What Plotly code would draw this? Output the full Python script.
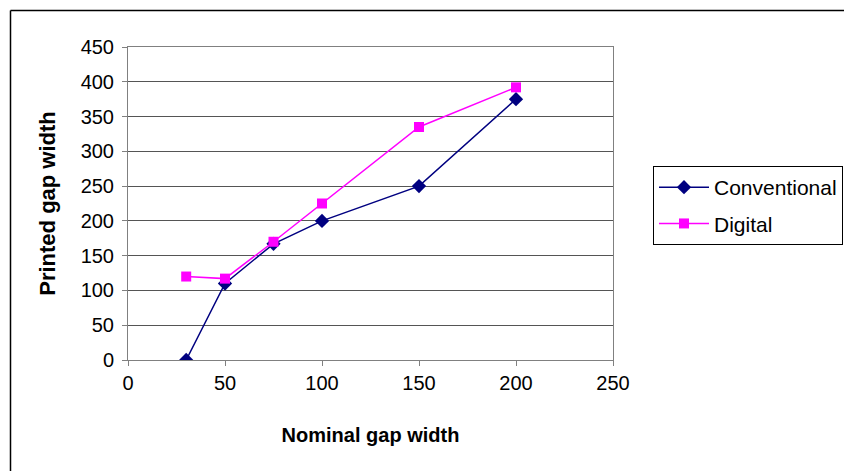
import plotly.graph_objects as go

nominal = [30, 50, 75, 100, 150, 200]
conventional = [0, 110, 167, 200, 250, 375]
digital = [120, 117, 170, 225, 335, 392]
x_ticks = [0, 50, 100, 150, 200, 250]
y_ticks = [0, 50, 100, 150, 200, 250, 300, 350, 400, 450]

W, H = 844, 471
L, R, T, B = 128, 231, 47, 111
pw, ph = W - L - R, H - T - B

FAM = "Liberation Sans, Arial, sans-serif"
font = dict(family=FAM, size=20, color="black")

fig = go.Figure()
fig.add_trace(go.Scatter(
    x=nominal, y=conventional, name="Conventional", mode="lines+markers",
    legendgroup="a",
    line=dict(color="#000080", width=1.5),
    marker=dict(symbol="diamond", size=11, color="#000080"),
))
fig.add_trace(go.Scatter(
    x=nominal, y=digital, name="Digital", mode="lines+markers",
    legendgroup="b",
    line=dict(color="#FF00FF", width=1.5),
    marker=dict(symbol="square", size=10, color="#FF00FF"),
))

def px_to_paper_x(px):
    return (px - L) / pw

def px_to_paper_y(py):
    return (H - B - py) / ph

# outer chart border (left and top visible)
fig.add_shape(type="line", xref="paper", yref="paper",
              x0=px_to_paper_x(10.5), x1=px_to_paper_x(850),
              y0=px_to_paper_y(10.5), y1=px_to_paper_y(10.5),
              line=dict(color="black", width=1.5))
fig.add_shape(type="line", xref="paper", yref="paper",
              x0=px_to_paper_x(10.5), x1=px_to_paper_x(10.5),
              y0=px_to_paper_y(10.5), y1=px_to_paper_y(480),
              line=dict(color="black", width=1.5))

fig.update_layout(
    width=W, height=H,
    margin=dict(l=L, r=R, t=T, b=B, autoexpand=False),
    paper_bgcolor="white", plot_bgcolor="white",
    font=font,
    showlegend=True,
    legend=dict(
        x=px_to_paper_x(653), y=px_to_paper_y(166),
        xanchor="left", yanchor="top",
        bordercolor="black", borderwidth=1,
        bgcolor="white",
        font=dict(family=FAM, size=21, color="black"),
        itemwidth=50,
        traceorder="grouped",
        tracegroupgap=6,
    ),
    xaxis=dict(
        range=[0, 250], tickvals=x_ticks, ticks="outside", ticklen=5,
        tickcolor="#808080", showline=True, linecolor="#808080", linewidth=1,
        mirror=True, showgrid=False, zeroline=False,
        title=dict(text="<b>Nominal gap width</b>", standoff=34,
                   font=dict(family=FAM, size=20)),
    ),
    yaxis=dict(
        range=[0, 450], tickvals=y_ticks, ticks="outside", ticklen=5,
        tickcolor="#808080", showline=True, linecolor="#808080", linewidth=1,
        mirror=True, showgrid=True, gridcolor="#555555", gridwidth=1,
        zeroline=False, ticklabelstandoff=4,
        title=dict(text="<b>Printed gap width</b>", standoff=18,
                   font=dict(family=FAM, size=22)),
    ),
)

fig.write_html("out.html")
